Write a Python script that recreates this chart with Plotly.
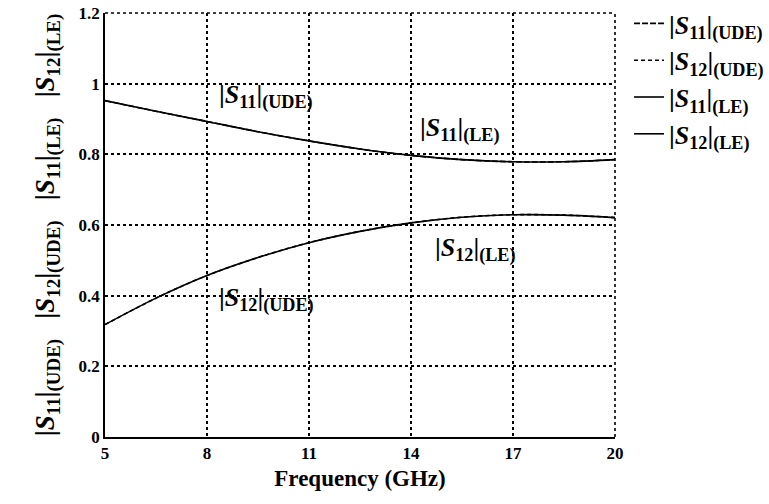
import plotly.graph_objects as go

freq = [5, 6.5, 8, 9.5, 11, 12.5, 14, 15.5, 17, 18.5, 20]
s11_le = [0.952, 0.922, 0.893, 0.864, 0.838, 0.815, 0.797, 0.785, 0.779, 0.779, 0.785]
s12_le = [0.318, 0.393, 0.457, 0.508, 0.550, 0.582, 0.606, 0.622, 0.629, 0.628, 0.621]
s11_ude = [0.952, 0.922, 0.893, 0.864, 0.838, 0.815, 0.797, 0.785, 0.779, 0.779, 0.785]
s12_ude = [0.318, 0.393, 0.457, 0.508, 0.550, 0.582, 0.606, 0.622, 0.629, 0.628, 0.621]
x_ticks = [5, 8, 11, 14, 17, 20]
y_ticks = [0, 0.2, 0.4, 0.6, 0.8, 1.0, 1.2]

FONT = "Liberation Serif"

def lab(s, sub):
    return ("<b>|<i>S</i><sub>%s</sub>|<sub>(%s)</sub></b>" % (s, sub))

fig = go.Figure()
fig.add_trace(go.Scatter(x=freq, y=s11_ude, mode="lines", line=dict(color="black", width=1.6, dash="6px,2px", shape="spline"),
                         name=lab("11", "UDE"), legendgroup="a"))
fig.add_trace(go.Scatter(x=freq, y=s12_ude, mode="lines", line=dict(color="black", width=1.6, dash="4px,3px", shape="spline"),
                         name=lab("12", "UDE"), legendgroup="b"))
fig.add_trace(go.Scatter(x=freq, y=s11_le, mode="lines", line=dict(color="black", width=1.6, shape="spline"),
                         name=lab("11", "LE"), legendgroup="c"))
fig.add_trace(go.Scatter(x=freq, y=s12_le, mode="lines", line=dict(color="black", width=1.6, shape="spline"),
                         name=lab("12", "LE"), legendgroup="d"))

ann_font = dict(family=FONT, size=26, color="black")
annots = [
    (8.3, 0.965, lab("11", "UDE")),
    (14.2, 0.87, lab("11", "LE")),
    (14.65, 0.53, lab("12", "LE")),
    (8.3, 0.388, lab("12", "UDE")),
]
for ax_, ay_, t in annots:
    fig.add_annotation(x=ax_, y=ay_, text=t, showarrow=False, xanchor="left", yanchor="middle", font=ann_font)

sp = "&nbsp;&nbsp;&nbsp;"
ytitle = (lab("11", "UDE") + sp + lab("12", "UDE") + sp + lab("11", "LE") + sp + lab("12", "LE"))

dot = dict(color="black", width=1.6, dash="dot")
fig.add_shape(type="line", xref="paper", yref="paper", x0=0, x1=1, y0=1, y1=1, line=dot)
fig.add_shape(type="line", xref="paper", yref="paper", x0=1, x1=1, y0=0, y1=1, line=dot)

fig.update_layout(
    width=769, height=504,
    margin=dict(l=105, r=154, t=13, b=67, autoexpand=False),
    paper_bgcolor="white", plot_bgcolor="white",
    font=dict(family=FONT, color="black"),
    showlegend=True,
    legend=dict(xref="container", yref="container", x=0.818, y=1.01, xanchor="left", yanchor="top",
                bgcolor="rgba(0,0,0,0)",
                font=dict(family=FONT, size=26, color="black"), itemwidth=30, tracegroupgap=0),
    xaxis=dict(range=[5, 20], tickvals=x_ticks, showgrid=True, gridcolor="black", griddash="dot", gridwidth=1.6,
               showline=True, linecolor="black", linewidth=1.6, ticks="", zeroline=False,
               tickfont=dict(family=FONT, size=17, color="black", weight="bold"),
               title=dict(text="<b>Frequency (GHz)</b>", font=dict(family=FONT, size=23, color="black"), standoff=8)),
    yaxis=dict(range=[0, 1.2], tickvals=y_ticks, showgrid=True, gridcolor="black", griddash="dot", gridwidth=1.6,
               showline=True, linecolor="black", linewidth=1.6, ticks="", zeroline=False,
               tickfont=dict(family=FONT, size=17, color="black", weight="bold"),
               title=dict(text=ytitle, font=dict(family=FONT, size=27, color="black"), standoff=16)),
)
fig.write_html("out.html")
